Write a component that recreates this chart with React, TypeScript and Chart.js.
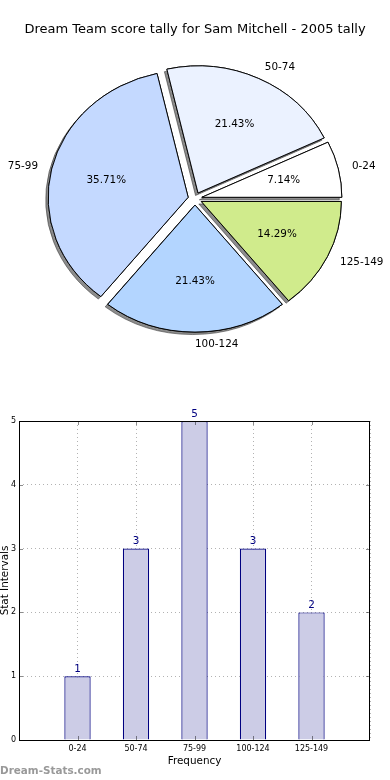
import React, { useEffect, useRef } from 'react';
import { Chart, registerables } from 'chart.js';

Chart.register(...registerables);

const FONT = "'DejaVu Sans', 'Bitstream Vera Sans', sans-serif";

// ---- data ----
const chartTitle = 'Dream Team score tally for Sam Mitchell - 2005 tally';
const categories = ['0-24', '50-74', '75-99', '100-124', '125-149'];
const counts = [1, 3, 5, 3, 2];
const pieColors = ['#FFFFFF', '#EBF2FF', '#C4D9FF', '#B3D5FF', '#D0EB8C'];
const yTickValues = [0, 1, 2, 3, 4, 5];
const xAxisTitle = 'Frequency';
const yAxisTitle = 'Stat Intervals';
const watermark = 'Dream-Stats.com';

// ---- pie styling ----
const EXPLODE = 0.05;
const LABEL_DIST = 1.1;
const PCT_DIST = 0.6;
const SQUASH_Y = 127 / 140;

const pieDrawPlugin = {
  id: 'pieDraw',
  beforeDatasetsDraw(chart: any) {
    const ctx = chart.ctx;
    const arcs = chart.getDatasetMeta(0).data;
    if (!arcs.length) return;
    const cx = arcs[0].x;
    const cy = arcs[0].y;
    ctx.save();
    ctx.translate(cx, cy);
    ctx.scale(1, SQUASH_Y);
    ctx.translate(-cx, -cy);
    for (const pass of [0, 1]) {
      arcs.forEach((arc: any) => {
        const mid = (arc.startAngle + arc.endAngle) / 2;
        const d = EXPLODE * arc.outerRadius;
        ctx.save();
        ctx.translate(Math.cos(mid) * d, Math.sin(mid) * d);
        if (pass === 0) {
          ctx.shadowColor = 'rgba(45,45,45,0.55)';
          ctx.shadowOffsetX = -2.5;
          ctx.shadowOffsetY = 2.5;
          ctx.shadowBlur = 0;
        }
        arc.draw(ctx);
        ctx.restore();
      });
    }
    ctx.restore();
    return false;
  },
  afterDraw(chart: any) {
    const ctx = chart.ctx;
    const arcs = chart.getDatasetMeta(0).data;
    if (!arcs.length) return;
    const labels = chart.data.labels;
    const values = chart.data.datasets[0].data as number[];
    const total = values.reduce((a, b) => a + b, 0);
    const cx = arcs[0].x;
    const cy = arcs[0].y;
    ctx.save();
    ctx.fillStyle = '#000';
    ctx.font = `10.4px ${FONT}`;
    ctx.textBaseline = 'middle';
    arcs.forEach((arc: any, i: number) => {
      const mid = (arc.startAngle + arc.endAngle) / 2;
      const R = arc.outerRadius;
      const c = Math.cos(mid);
      const s = Math.sin(mid);
      const lr = (EXPLODE + LABEL_DIST) * R;
      ctx.textAlign = c > -1e-6 ? 'left' : 'right';
      ctx.fillText(labels[i], cx + lr * c, cy + SQUASH_Y * lr * s);
      const pr = (EXPLODE + PCT_DIST) * R;
      ctx.textAlign = 'center';
      ctx.fillText(((values[i] / total) * 100).toFixed(2) + '%', cx + pr * c, cy + SQUASH_Y * pr * s);
    });
    ctx.restore();
  },
};

const barDecorPlugin = {
  id: 'barDecor',
  afterDraw(chart: any) {
    const ctx = chart.ctx;
    const { left, right, top, bottom } = chart.chartArea;
    const xs = chart.scales.x;
    const ys = chart.scales.y;
    ctx.save();
    // inner tick marks
    ctx.strokeStyle = 'rgba(0,0,0,0.45)';
    ctx.lineWidth = 1;
    ctx.beginPath();
    yTickValues.forEach((v) => {
      const py = Math.round(ys.getPixelForValue(v)) + 0.5;
      ctx.moveTo(left, py);
      ctx.lineTo(left + 4, py);
      ctx.moveTo(right - 4, py);
      ctx.lineTo(right, py);
    });
    categories.forEach((_, i) => {
      const px = Math.round(xs.getPixelForValue(i)) + 0.5;
      ctx.moveTo(px, bottom);
      ctx.lineTo(px, bottom - 4);
      ctx.moveTo(px, top);
      ctx.lineTo(px, top + 4);
    });
    ctx.stroke();
    // frame
    ctx.strokeStyle = '#000';
    ctx.lineWidth = 1;
    ctx.strokeRect(Math.round(left) + 0.5, Math.round(top) + 0.5, Math.round(right - left) - 1, Math.round(bottom - top));
    // value labels
    const meta = chart.getDatasetMeta(0);
    ctx.fillStyle = '#000080';
    ctx.font = `10.4px ${FONT}`;
    ctx.textAlign = 'center';
    ctx.textBaseline = 'bottom';
    meta.data.forEach((bar: any, i: number) => {
      ctx.fillText(String(counts[i]), bar.x, bar.y - 2);
    });
    // y axis title (clipped at the left edge like the original)
    ctx.fillStyle = '#000';
    ctx.font = `10.4px ${FONT}`;
    ctx.translate(8, (top + bottom) / 2);
    ctx.rotate(-Math.PI / 2);
    ctx.textAlign = 'center';
    ctx.textBaseline = 'alphabetic';
    ctx.fillText(yAxisTitle, 0, 0);
    ctx.restore();
  },
};

export default function App() {
  const pieRef = useRef<HTMLCanvasElement>(null);
  const barRef = useRef<HTMLCanvasElement>(null);

  useEffect(() => {
    Chart.defaults.font.family = FONT;
    const pieLabels = [...categories].reverse();
    const pieValues = [...counts].reverse();
    const pieBg = [...pieColors].reverse();

    const pie = new Chart(pieRef.current as HTMLCanvasElement, {
      type: 'pie',
      data: {
        labels: pieLabels,
        datasets: [
          {
            data: pieValues,
            backgroundColor: pieBg,
            borderColor: '#000',
            borderWidth: 1,
            borderJoinStyle: 'miter',
            radius: 140,
          } as any,
        ],
      },
      options: {
        animation: false,
        responsive: false,
        devicePixelRatio: 1,
        events: [],
        rotation: 90,
        layout: { padding: { top: 0, left: 0, right: 0, bottom: 50.2 } },
        plugins: {
          legend: { display: false },
          tooltip: { enabled: false },
          title: {
            display: true,
            text: chartTitle,
            color: '#000',
            font: { family: FONT, size: 13, weight: 'normal' },
            padding: { top: 22, bottom: 10 },
          },
        },
      } as any,
      plugins: [pieDrawPlugin],
    });

    const bar = new Chart(barRef.current as HTMLCanvasElement, {
      type: 'bar',
      data: {
        datasets: [
          {
            data: counts.map((v, i) => ({ x: i, y: v })),
            backgroundColor: 'rgb(204,204,230)',
            borderColor: '#000080',
            borderWidth: 1.2,
            barPercentage: 0.45,
            categoryPercentage: 1,
          } as any,
        ],
      },
      options: {
        animation: false,
        responsive: false,
        devicePixelRatio: 1,
        events: [],
        layout: { padding: { top: 21, right: 20, left: 0, bottom: 0 } },
        plugins: { legend: { display: false }, tooltip: { enabled: false } },
        scales: {
          x: {
            type: 'linear',
            min: -1,
            max: 5,
            offset: false,
            z: 1,
            afterFit: (s: any) => {
              s.height = 40;
            },
            ticks: {
              stepSize: 1,
              padding: 4,
              color: '#000',
              maxRotation: 0,
              autoSkip: false,
              font: { family: FONT, size: 8 },
              callback: (v: any) => categories[v] ?? '',
            },
            grid: { color: 'rgba(0,0,0,0.3)', lineWidth: 1, drawTicks: false, offset: false },
            border: { display: false, dash: [1, 3] },
            title: {
              display: true,
              text: xAxisTitle,
              color: '#000',
              font: { family: FONT, size: 10.4 },
              padding: { top: 0, bottom: 12 },
            },
          },
          y: {
            type: 'linear',
            min: 0,
            max: 5,
            z: 1,
            afterFit: (s: any) => {
              s.width = 19;
            },
            ticks: {
              stepSize: 1,
              padding: 3,
              color: '#000',
              font: { family: FONT, size: 8 },
            },
            grid: { color: 'rgba(0,0,0,0.3)', lineWidth: 1, drawTicks: false },
            border: { display: false, dash: [1, 3] },
          },
        },
      } as any,
      plugins: [barDecorPlugin],
    });

    return () => {
      pie.destroy();
      bar.destroy();
    };
  }, []);

  return (
    <div style={{ position: 'absolute', left: 0, top: 0, width: 390, height: 780, background: '#fff', overflow: 'hidden' }}>
      <canvas ref={pieRef} width={390} height={400} style={{ position: 'absolute', left: 0, top: 0, width: 390, height: 400 }} />
      <canvas ref={barRef} width={390} height={380} style={{ position: 'absolute', left: 0, top: 400, width: 390, height: 380 }} />
      <div
        style={{
          position: 'absolute',
          left: 0,
          top: 762,
          fontFamily: FONT,
          fontWeight: 'bold',
          fontSize: 10.4,
          lineHeight: '16px',
          color: '#999999',
          whiteSpace: 'nowrap',
        }}
      >
        {watermark}
      </div>
    </div>
  );
}
